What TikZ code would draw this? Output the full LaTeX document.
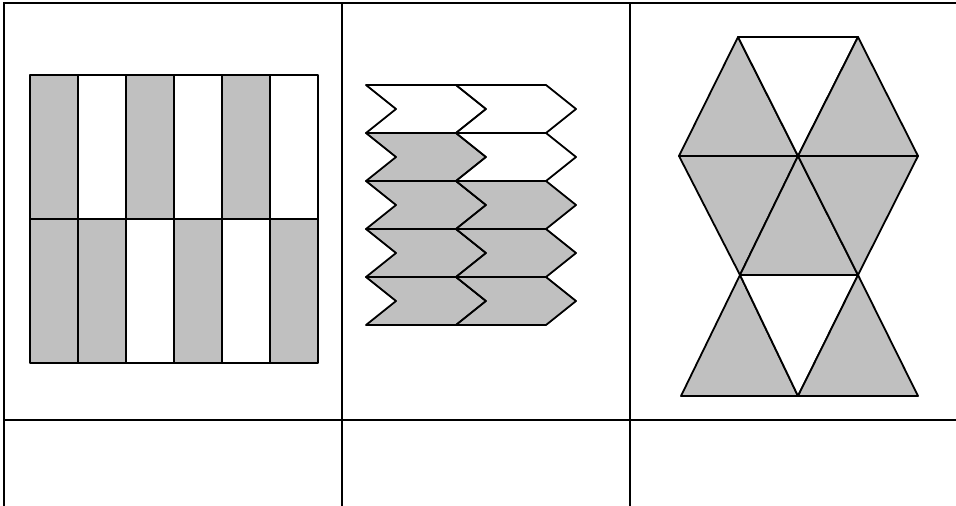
\documentclass[tikz,border=0pt]{standalone}
\usepackage{xcolor}
\definecolor{silver}{HTML}{C0C0C0}
\tikzset{piece/.style={draw=black,line width=1.8pt,line join=round},
  shaded/.style={piece,fill=silver},
  blank/.style={piece,fill=white},
  rule/.style={draw=black,line width=2pt}}

\begin{document}
\begin{tikzpicture}[x=1pt,y=-1pt]
\useasboundingbox (0,0) rectangle (956,506);
% table
\draw[rule] (4,506) -- (4,3) -- (956,3);
\draw[rule] (4,420) -- (956,420);
\foreach \x in {342,630} \draw[rule] (\x,3) -- (\x,506);
% stripes
\foreach \i/\t/\b in {0/shaded/shaded,1/blank/shaded,2/shaded/blank,3/blank/shaded,4/shaded/blank,5/blank/shaded}{
  \draw[\t] (30+48*\i,75) rectangle +(48,144);
  \draw[\b] (30+48*\i,219) rectangle +(48,144);
}
% chevrons
\foreach \r/\a/\b in {0/blank/blank,1/shaded/blank,2/shaded/shaded,3/shaded/shaded,4/shaded/shaded}
  \foreach \c/\s in {0/\a,1/\b}
    \draw[\s] (366+90*\c,85+48*\r) -- ++(90,0) -- ++(30,24) -- ++(-30,24) -- ++(-90,0) -- ++(30,-24) -- cycle;
% triangles
\coordinate (A) at (738,37);
\coordinate (B) at (858,37);
\coordinate (C) at (679,156);
\coordinate (D) at (798,156);
\coordinate (E) at (918,156);
\coordinate (F) at (740,275);
\coordinate (G) at (858,275);
\coordinate (H) at (681,396);
\coordinate (I) at (798,396);
\coordinate (J) at (918,396);
\draw[shaded] (C) -- (A) -- (D) -- cycle;
\draw[blank] (A) -- (B) -- (D) -- cycle;
\draw[shaded] (D) -- (B) -- (E) -- cycle;
\draw[shaded] (C) -- (F) -- (D) -- cycle;
\draw[shaded] (D) -- (F) -- (G) -- cycle;
\draw[shaded] (D) -- (G) -- (E) -- cycle;
\draw[shaded] (H) -- (F) -- (I) -- cycle;
\draw[blank] (F) -- (G) -- (I) -- cycle;
\draw[shaded] (I) -- (G) -- (J) -- cycle;
\end{tikzpicture}
\end{document}
